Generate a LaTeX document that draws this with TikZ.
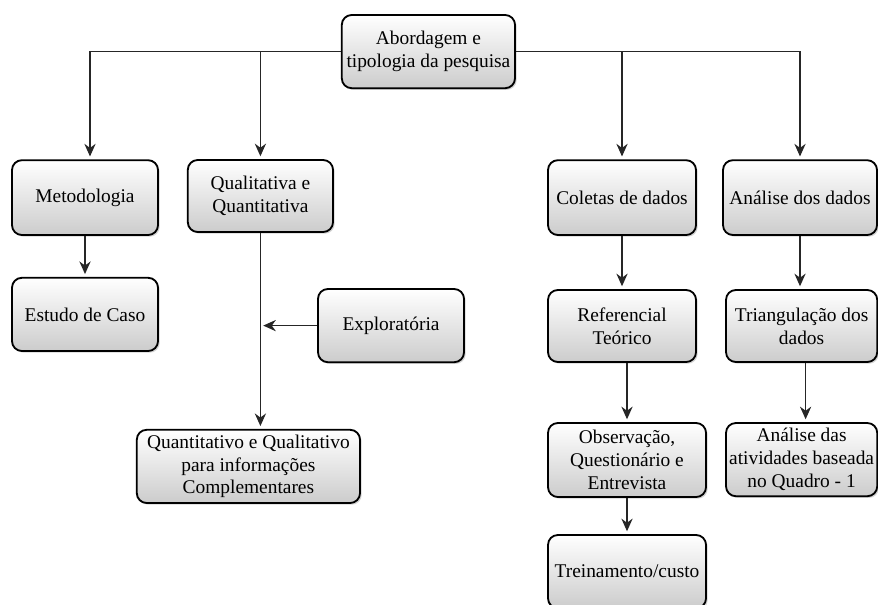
\documentclass[tikz,border=0pt]{standalone}
\usepackage{fontspec}
\setmainfont{Liberation Serif}
\usetikzlibrary{positioning,arrows.meta,shadows}
\tikzset{
  boxnode/.style={draw=black,line width=1.3pt,rounded corners=7pt,
    top color=white,bottom color=gray!40,
    drop shadow={shadow xshift=1.2pt,shadow yshift=-1.2pt,opacity=0.35},
    font=\fontsize{13.8}{16.3}\selectfont,align=center,inner sep=2pt},
  edgeA/.style={line width=1pt,draw=black!85,-{Stealth[length=9pt,width=8pt]},shorten >=2pt},
}
\begin{document}
\begin{tikzpicture}
  \useasboundingbox (0,0) rectangle (21.95,-15.1);
  \node[boxnode,minimum width=4.33cm,minimum height=1.83cm] (topo) at (10.71,-1.29) {Abordagem e\\tipologia da pesquisa};
  \node[boxnode,minimum width=3.65cm,minimum height=1.87cm] (meto) at (2.125,-4.94) {Metodologia};
  \node[boxnode,minimum width=3.63cm,minimum height=1.80cm] (qual) at (6.51,-4.90) {Qualitativa e\\Quantitativa};
  \node[boxnode,minimum width=3.70cm,minimum height=1.87cm] (colet) at (15.55,-4.94) {Coletas de dados};
  \node[boxnode,minimum width=3.85cm,minimum height=1.87cm] (anal) at (20.00,-4.94) {Análise dos dados};
  \node[boxnode,minimum width=3.65cm,minimum height=1.83cm] (estudo) at (2.125,-7.86) {Estudo de Caso};
  \node[boxnode,minimum width=3.65cm,minimum height=1.83cm] (explo) at (9.775,-8.14) {Exploratória};
  \node[boxnode,minimum width=5.58cm,minimum height=1.83cm] (quant) at (6.21,-11.66) {Quantitativo e Qualitativo\\para informações\\Complementares};
  \node[boxnode,minimum width=3.70cm,minimum height=1.80cm] (refer) at (15.55,-8.15) {Referencial\\Teórico};
  \node[boxnode,minimum width=3.78cm,minimum height=1.80cm] (trian) at (20.04,-8.15) {Triangulação dos\\dados};
  \node[boxnode,minimum width=3.95cm,minimum height=1.85cm] (obser) at (15.675,-11.50) {Observação,\\Questionário e\\Entrevista};
  \node[boxnode,minimum width=3.78cm,minimum height=1.83cm] (ativ) at (20.04,-11.49) {Análise das\\atividades baseada\\no Quadro - 1};
  \node[boxnode,minimum width=3.95cm,minimum height=1.83cm] (trein) at (15.675,-14.29) {Treinamento/custo};
  \draw[edgeA] (topo.west) -| ([xshift=0.125cm]meto.north);
  \draw[edgeA] (topo.west) -| (qual.north);
  \draw[edgeA] (topo.east) -| (colet.north);
  \draw[edgeA] (topo.east) -| (anal.north);
  \draw[edgeA] (meto) -- (estudo);
  \draw[edgeA] (qual.south) -- (qual.south |- quant.north);
  \draw[edgeA] (explo.west) -- (explo.west -| qual.south);
  \draw[edgeA] (colet) -- (refer);
  \draw[edgeA] (obser.north |- refer.south) -- (obser.north);
  \draw[edgeA] (obser) -- (trein);
  \draw[edgeA] (anal.south) -- (anal.south |- trian.north);
  \draw[edgeA] ([xshift=0.1cm]trian.south) -- ([xshift=0.1cm]ativ.north);
\end{tikzpicture}
\end{document}
